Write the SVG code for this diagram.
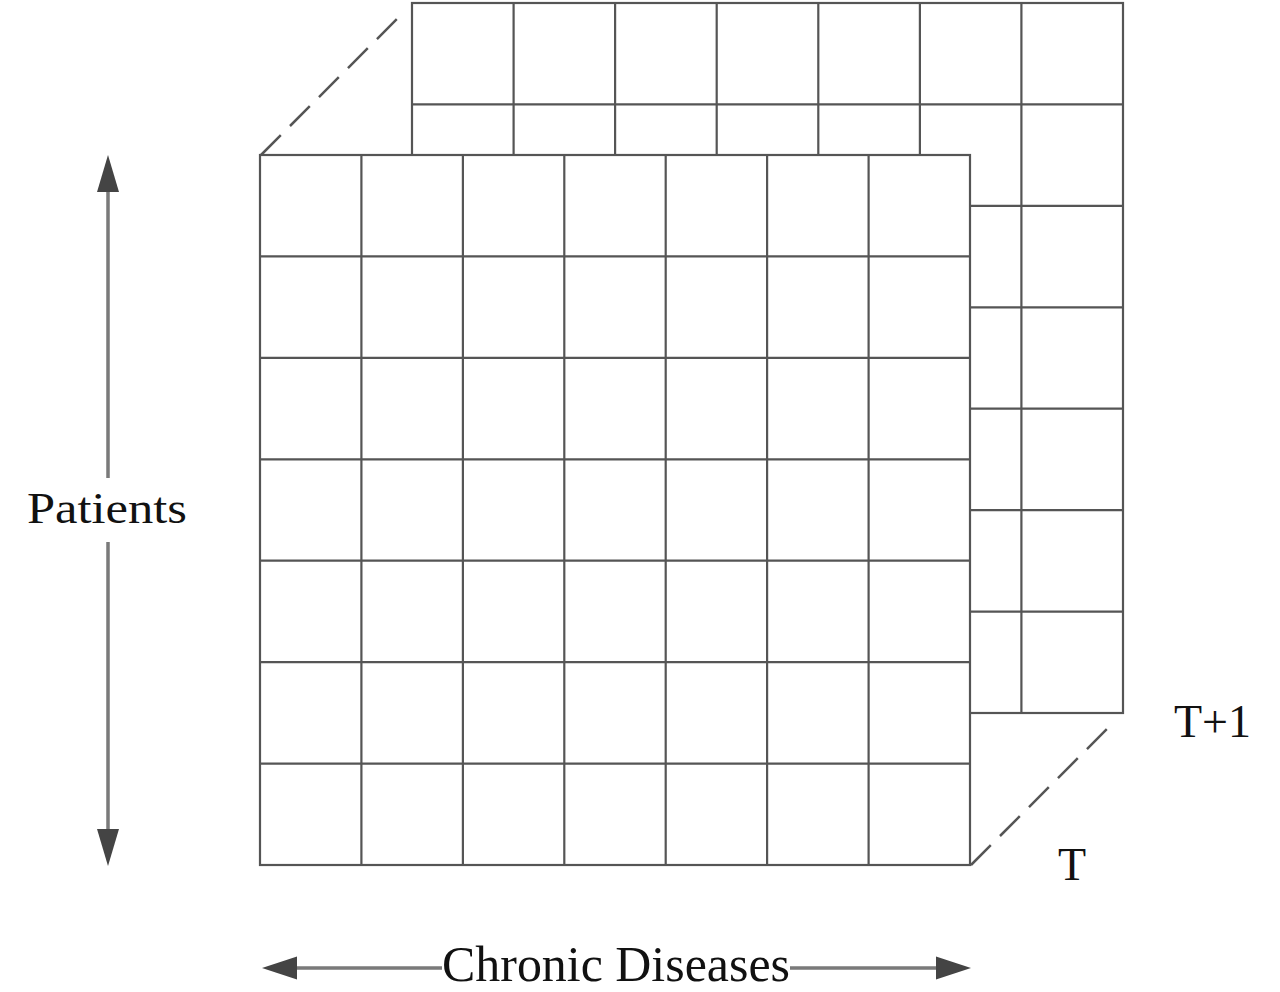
<svg xmlns="http://www.w3.org/2000/svg" width="1280" height="992" viewBox="0 0 1280 992">
<style>
.grid{fill:#ffffff;stroke:#555555;stroke-width:2.2}
.gl{stroke:#555555;stroke-width:2.2;fill:none}
.dash{stroke:#555555;stroke-width:2.5;fill:none;stroke-dasharray:28 13}
.axis{stroke:#7a7a7a;stroke-width:3.5;fill:none}
.head{fill:#444444}
.lbl{font-family:"Liberation Serif","Times New Roman",serif;fill:#111111}
</style>
<rect width="1280" height="992" fill="#ffffff"/>
<g id="layer-T1">
<rect class="grid" x="412" y="3" width="711" height="710"/>
<path class="gl" d="M513.6 3V713M615.1 3V713M716.7 3V713M818.3 3V713M919.9 3V713M1021.4 3V713M412 104.4H1123M412 205.9H1123M412 307.3H1123M412 408.7H1123M412 510.1H1123M412 611.6H1123"/>
</g>
<g id="layer-T">
<rect class="grid" x="260" y="155" width="710" height="710"/>
<path class="gl" d="M361.4 155V865M462.9 155V865M564.3 155V865M665.7 155V865M767.1 155V865M868.6 155V865M260 256.4H970M260 357.9H970M260 459.3H970M260 560.7H970M260 662.1H970M260 763.6H970"/>
</g>
<g id="connectors">
<path class="dash" d="M261 155L401 15"/>
<path class="dash" d="M971 865L1111 725"/>
<path class="axis" d="M108 188V478M108 542V832"/>
<polygon class="head" points="108,155 97,192 119,192"/>
<polygon class="head" points="108,866 97,829 119,829"/>
<path class="axis" d="M294 968H442M790 968H940"/>
<polygon class="head" points="262,968 297,956.5 297,979.5"/>
<polygon class="head" points="971,968 936,956.5 936,979.5"/>
</g>
<g id="labels">
<text class="lbl" x="27" y="523" font-size="45" textLength="160" lengthAdjust="spacingAndGlyphs">Patients</text>
<text class="lbl" x="442" y="981" font-size="50" textLength="348" lengthAdjust="spacingAndGlyphs">Chronic Diseases</text>
<text class="lbl" x="1174" y="737" font-size="46">T+1</text>
<text class="lbl" x="1058" y="880" font-size="46">T</text>
</g>
</svg>
